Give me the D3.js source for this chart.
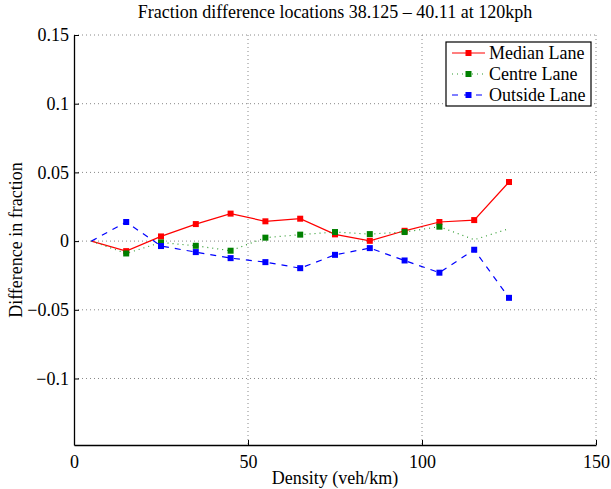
<!DOCTYPE html>
<html>
<head>
<meta charset="utf-8">
<script src="https://cdn.jsdelivr.net/npm/d3@7"></script>
<style>
  body { margin: 0; background: #fff; }
  svg text { font-family: "Liberation Serif", "Times New Roman", serif; fill: #000; }
</style>
</head>
<body>
<div id="chart"></div>
<script>
// data
var density = [5, 15, 25, 35, 45, 55, 65, 75, 85, 95, 105, 115, 125];
var median  = [0, -0.0073, 0.0034, 0.0124, 0.0200, 0.0144, 0.0163, 0.0049, 0.0002, 0.0075, 0.0139, 0.0153, 0.0430];
var centre  = [0, -0.0090, -0.0010, -0.0034, -0.0070, 0.0025, 0.0047, 0.0066, 0.0051, 0.0066, 0.0105, 0.0010, 0.0090];
var outside = [0, 0.0139, -0.0036, -0.0080, -0.0124, -0.0153, -0.0197, -0.0100, -0.0051, -0.0141, -0.0230, -0.0063, -0.0413];
// which points carry a marker (first point never does, centre stops at 105)
var medianMarks  = [0, 1, 1, 1, 1, 1, 1, 1, 1, 1, 1, 1, 1];
var centreMarks  = [0, 1, 1, 1, 1, 1, 1, 1, 1, 1, 1, 0, 0];
var outsideMarks = [0, 1, 1, 1, 1, 1, 1, 1, 1, 1, 1, 1, 1];

var xTicks = [0, 50, 100, 150];
var yTicks = [-0.1, -0.05, 0, 0.05, 0.1, 0.15];
var legendNames = ["Median Lane", "Centre Lane", "Outside Lane"];

var W = 611, H = 489;
var margin = {top: 35, right: 15, bottom: 44, left: 74},
    width = 596 - margin.left,
    height = 445 - margin.top;
var fs = 18;

var svg = d3.select("#chart").append("svg")
    .attr("width", W)
    .attr("height", H);

var g = svg.append("g")
    .attr("transform", "translate(" + margin.left + "," + margin.top + ")");

var x = d3.scaleLinear().domain([0, 150]).range([0, width]);
var y = d3.scaleLinear().domain([-0.1484, 0.15]).range([height, 0]);

// grid (dotted)
g.selectAll(".xgrid").data(xTicks.filter(d => d > 0)).enter().append("line")
    .attr("x1", d => x(d)).attr("x2", d => x(d))
    .attr("y1", 0).attr("y2", height)
    .attr("stroke", "#888").attr("stroke-width", 1)
    .attr("stroke-dasharray", "1,3");
g.selectAll(".ygrid").data(yTicks).enter().append("line")
    .attr("x1", 0).attr("x2", width)
    .attr("y1", d => y(d)).attr("y2", d => y(d))
    .attr("stroke", "#888").attr("stroke-width", 1)
    .attr("stroke-dasharray", "1,3");

// axes, ticks pointing inwards like matlab
var fmtY = function(d) { return d === 0 ? "0" : d3.format("")(d).replace("-", "\u2212"); };
var xAxis = d3.axisBottom(x).tickValues(xTicks).tickSizeInner(-5).tickSizeOuter(0).tickPadding(10);
var yAxis = d3.axisLeft(y).tickValues(yTicks).tickSizeInner(-5).tickSizeOuter(0).tickPadding(5).tickFormat(fmtY);

var gx = g.append("g").attr("transform", "translate(0," + height + ")").call(xAxis);
var gy = g.append("g").call(yAxis);
[gx, gy].forEach(function(a) {
  a.attr("font-family", null).attr("font-size", null);
  a.select(".domain").attr("stroke", "#000").attr("stroke-width", 1.3);
  a.selectAll(".tick line").attr("stroke", "#000");
  a.selectAll(".tick text")
      .style("font-family", "'Liberation Serif', serif")
      .style("font-size", fs + "px");
});

// series
var series = [
  {vals: median,  marks: medianMarks,  color: "#ff0000", mcolor: "#ff0000", dash: null},
  {vals: centre,  marks: centreMarks,  color: "#2e9a2e", mcolor: "#008000", dash: "1,4"},
  {vals: outside, marks: outsideMarks, color: "#0000ff", mcolor: "#0000ff", dash: "6,6"}
];

var line = d3.line().x((d, i) => x(density[i])).y(d => y(d));
var ms = 6;

series.forEach(function(s) {
  g.append("path")
      .datum(s.vals)
      .attr("d", line)
      .attr("fill", "none")
      .attr("stroke", s.color)
      .attr("stroke-width", 1.2)
      .attr("stroke-dasharray", s.dash);
});
series.forEach(function(s) {
  g.selectAll(null)
      .data(s.vals.map((v, i) => ({x: density[i], y: v, m: s.marks[i]})).filter(d => d.m))
      .enter().append("rect")
      .attr("x", d => x(d.x) - ms / 2)
      .attr("y", d => y(d.y) - ms / 2)
      .attr("width", ms).attr("height", ms)
      .attr("fill", s.mcolor);
});

// legend
var lg = svg.append("g").attr("transform", "translate(446,42)");
lg.append("rect")
    .attr("width", 145).attr("height", 64)
    .attr("fill", "#fff").attr("stroke", "#000").attr("stroke-width", 1.2);
legendNames.forEach(function(name, i) {
  var s = series[i], yy = 11 + i * 21;
  lg.append("line")
      .attr("x1", 6).attr("x2", 39).attr("y1", yy).attr("y2", yy)
      .attr("stroke", s.color).attr("stroke-width", 1.2)
      .attr("stroke-dasharray", s.dash);
  lg.append("rect")
      .attr("x", 22.5 - ms / 2).attr("y", yy - ms / 2)
      .attr("width", ms).attr("height", ms)
      .attr("fill", s.mcolor);
  lg.append("text")
      .attr("x", 43).attr("y", yy + 6)
      .style("font-size", fs + "px")
      .text(name);
});

// labels
svg.append("text")
    .attr("x", margin.left + width / 2).attr("y", 18)
    .attr("text-anchor", "middle")
    .style("font-size", fs + "px")
    .text("Fraction difference locations 38.125 \u2013 40.11 at 120kph");

svg.append("text")
    .attr("x", margin.left + width / 2).attr("y", 484)
    .attr("text-anchor", "middle")
    .style("font-size", fs + "px")
    .text("Density (veh/km)");

svg.append("text")
    .attr("transform", "translate(22," + (margin.top + height / 2) + ") rotate(-90)")
    .attr("text-anchor", "middle")
    .style("font-size", fs + "px")
    .text("Difference in fraction");
</script>
</body>
</html>
